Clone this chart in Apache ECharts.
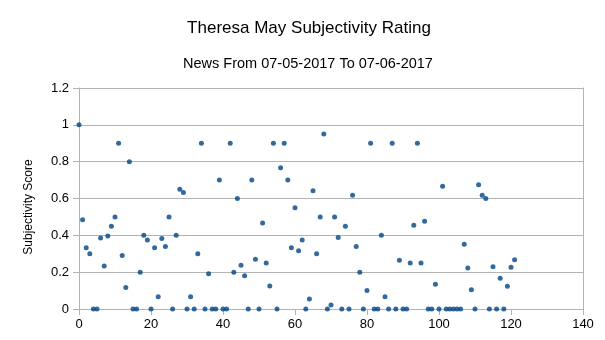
<!DOCTYPE html>
<html>
<head>
<meta charset="utf-8">
<script src="https://cdn.jsdelivr.net/npm/echarts@6/dist/echarts.min.js"></script>
<style>
  html, body { margin: 0; padding: 0; background: #ffffff; }
  #chart { width: 605px; height: 340px; }
</style>
</head>
<body>
<div id="chart"></div>
<script>
// Subjectivity score for each news article, in article order (x = article index)
const scores = [
  1.0, 0.485, 0.333, 0.3, 0, 0, 0.385, 0.233, 0.396, 0.45,
  0.5, 0.9, 0.29, 0.117, 0.8, 0, 0, 0.2, 0.4, 0.375,
  0, 0.333, 0.067, 0.383, 0.34, 0.5, 0, 0.4, 0.65, 0.633,
  0, 0.067, 0, 0.3, 0.9, 0, 0.192, 0, 0, 0.7,
  0, 0, 0.9, 0.2, 0.6, 0.238, 0.18, 0, 0.7, 0.27,
  0, 0.467, 0.25, 0.125, 0.9, 0, 0.767, 0.9, 0.7, 0.333,
  0.55, 0.316, 0.375, 0, 0.054, 0.642, 0.3, 0.5, 0.95, 0,
  0.022, 0.5, 0.388, 0, 0.45, 0, 0.617, 0.34, 0.2, 0,
  0.1, 0.9, 0, 0, 0.4, 0.067, 0, 0.9, 0, 0.265,
  0, 0, 0.25, 0.455, 0.9, 0.25, 0.477, 0, 0, 0.134,
  0, 0.667, 0, 0, 0, 0, 0, 0.352, 0.222, 0.105,
  0, 0.675, 0.617, 0.6, 0, 0.229, 0, 0.167, 0, 0.123,
  0.227, 0.267
];

const chartTitle = 'Theresa May Subjectivity Rating';
const chartSubtitle = 'News From 07-05-2017 To 07-06-2017';
const yAxisTitle = 'Subjectivity Score';

const xMin = 0, xMax = 140, xStep = 20;
const yMin = 0, yMax = 1.2, yStep = 0.2;

const points = scores.map((v, i) => [i, v]);

const gridColor = '#b3b3b3';
const font = '"Liberation Sans", Arial, sans-serif';

const chart = echarts.init(document.getElementById('chart'), null, { renderer: 'canvas' });
chart.setOption({
  animation: false,
  backgroundColor: '#ffffff',
  title: [
    {
      text: chartTitle,
      left: 304, top: 15, textAlign: 'center',
      textStyle: { fontFamily: font, fontSize: 17, fontWeight: 'normal', color: '#000000' }
    },
    {
      text: chartSubtitle,
      left: 303, top: 51, textAlign: 'center',
      textStyle: { fontFamily: font, fontSize: 14.5, fontWeight: 'normal', color: '#000000' }
    }
  ],
  graphic: [
    {
      type: 'text',
      x: 29, y: 207,
      rotation: Math.PI / 2,
      style: {
        text: yAxisTitle,
        font: '12px ' + font,
        fill: '#000000',
        textAlign: 'center',
        textVerticalAlign: 'middle'
      }
    }
  ],
  grid: { left: 79, right: 22, top: 88, bottom: 31, containLabel: false },
  xAxis: {
    type: 'value',
    min: xMin, max: xMax, interval: xStep,
    axisLine: { show: true, lineStyle: { color: gridColor, width: 1 } },
    axisTick: { show: true, length: 6, lineStyle: { color: gridColor } },
    axisLabel: { margin: 9, fontFamily: font, fontSize: 13, color: '#000000' },
    splitLine: { show: false }
  },
  yAxis: [
    {
      type: 'value',
      min: yMin, max: yMax, interval: yStep,
      axisLine: { show: true, lineStyle: { color: gridColor, width: 1 } },
      axisTick: { show: true, length: 6, lineStyle: { color: gridColor } },
      axisLabel: { margin: 10, fontFamily: font, fontSize: 13, color: '#000000' },
      splitLine: { show: true, lineStyle: { color: gridColor, width: 1 } }
    },
    {
      type: 'value',
      position: 'right',
      min: yMin, max: yMax, interval: yStep,
      axisLine: { show: true, lineStyle: { color: gridColor, width: 1 } },
      axisTick: { show: false },
      axisLabel: { show: false },
      splitLine: { show: false }
    }
  ],
  series: [
    {
      type: 'scatter',
      data: points,
      symbol: 'circle',
      symbolSize: 5,
      itemStyle: { color: '#004586' }
    }
  ]
});
</script>
</body>
</html>
